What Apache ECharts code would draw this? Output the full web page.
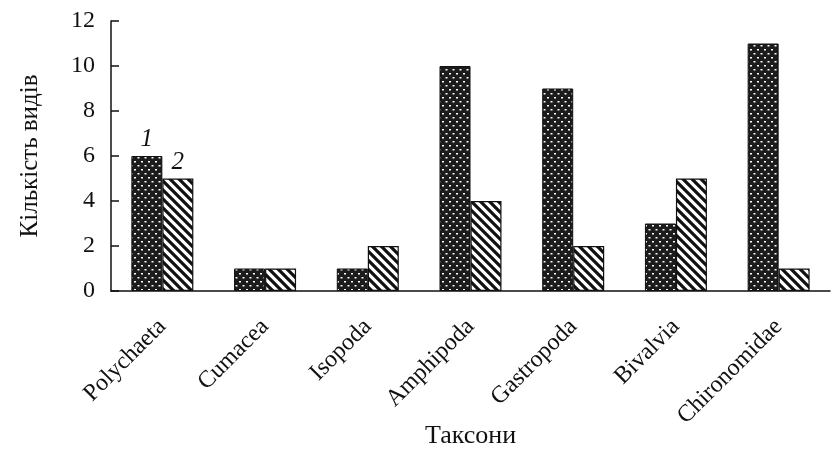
<!DOCTYPE html>
<html><head><meta charset="utf-8">
<script src="https://cdn.jsdelivr.net/npm/echarts@6/dist/echarts.min.js"></script>
<style>html,body{margin:0;padding:0;background:#fff}#c{width:837px;height:470px}</style>
</head><body><div id="c"></div>
<script>
const categories = ['Polychaeta','Cumacea','Isopoda','Amphipoda','Gastropoda','Bivalvia','Chironomidae'];
const series1 = [6,1,1,10,9,3,11];
const series2 = [5,1,2,4,2,5,1];
const seriesLabels = ['1','2'];
const yTicks = {min:0, max:12, interval:2};

function dotPattern(){
  const c=document.createElement('canvas'); c.width=7; c.height=8;
  const g=c.getContext('2d');
  g.fillStyle='#1c1c1c'; g.fillRect(0,0,7,8);
  g.fillStyle='#ffffff';
  g.fillRect(1,1,2,1.5); g.fillRect(4.5,5,2,1.5);
  return c;
}
function stripePattern(){
  const s=9;
  const c=document.createElement('canvas'); c.width=s; c.height=s;
  const g=c.getContext('2d');
  g.fillStyle='#fff'; g.fillRect(0,0,s,s);
  g.strokeStyle='#111'; g.lineWidth=3.2;
  g.beginPath();
  g.moveTo(-s,-s); g.lineTo(2*s,2*s);
  g.moveTo(0,-s); g.lineTo(2*s,s);
  g.moveTo(-s,0); g.lineTo(s,2*s);
  g.stroke();
  return c;
}
const font = "'Liberation Serif', 'DejaVu Serif', serif";
const chart = echarts.init(document.getElementById('c'), null, {renderer:'canvas'});
function withFirstLabel(arr, text){
  return arr.map((v,i)=> i===0 ? {value:v, label:{show:true, position:'top', distance:4, formatter:text, fontStyle:'italic', fontSize:25, fontFamily:font, color:'#111'}} : v);
}
chart.setOption({
  animation:false,
  grid:{left:111, right:7, top:21, bottom:179, containLabel:false, outerBoundsMode:'none'},
  xAxis:{
    type:'category', data:categories,
    name:'Таксони', nameLocation:'middle', nameGap:132, nameMoveOverlap:false,
    nameTextStyle:{fontFamily:font, fontSize:26, color:'#111'},
    axisLine:{lineStyle:{color:'#111', width:1.5}},
    axisTick:{show:false},
    axisLabel:{rotate:45, fontFamily:font, fontSize:24, color:'#111', margin:32}
  },
  yAxis:{
    type:'value', min:yTicks.min, max:yTicks.max, interval:yTicks.interval,
    name:'Кількість видів', nameLocation:'middle', nameGap:68, nameRotate:90, nameMoveOverlap:false,
    nameTextStyle:{fontFamily:font, fontSize:25, color:'#111'},
    axisLine:{show:true, lineStyle:{color:'#111', width:1.5}},
    axisTick:{show:true, inside:true, length:8, lineStyle:{color:'#111', width:1.5}},
    splitLine:{show:false},
    axisLabel:{fontFamily:font, fontSize:24, color:'#111', margin:16}
  },
  series:[
    {type:'bar', name:seriesLabels[0], data:withFirstLabel(series1, seriesLabels[0]), barWidth:31, barGap:'0%',
     itemStyle:{color:{image:dotPattern(), repeat:'repeat'}, borderColor:'#111', borderWidth:1}},
    {type:'bar', name:seriesLabels[1], data:withFirstLabel(series2, seriesLabels[1]), barWidth:31, barGap:'0%',
     itemStyle:{color:{image:stripePattern(), repeat:'repeat'}, borderColor:'#111', borderWidth:1.2}}
  ]
});
</script></body></html>
